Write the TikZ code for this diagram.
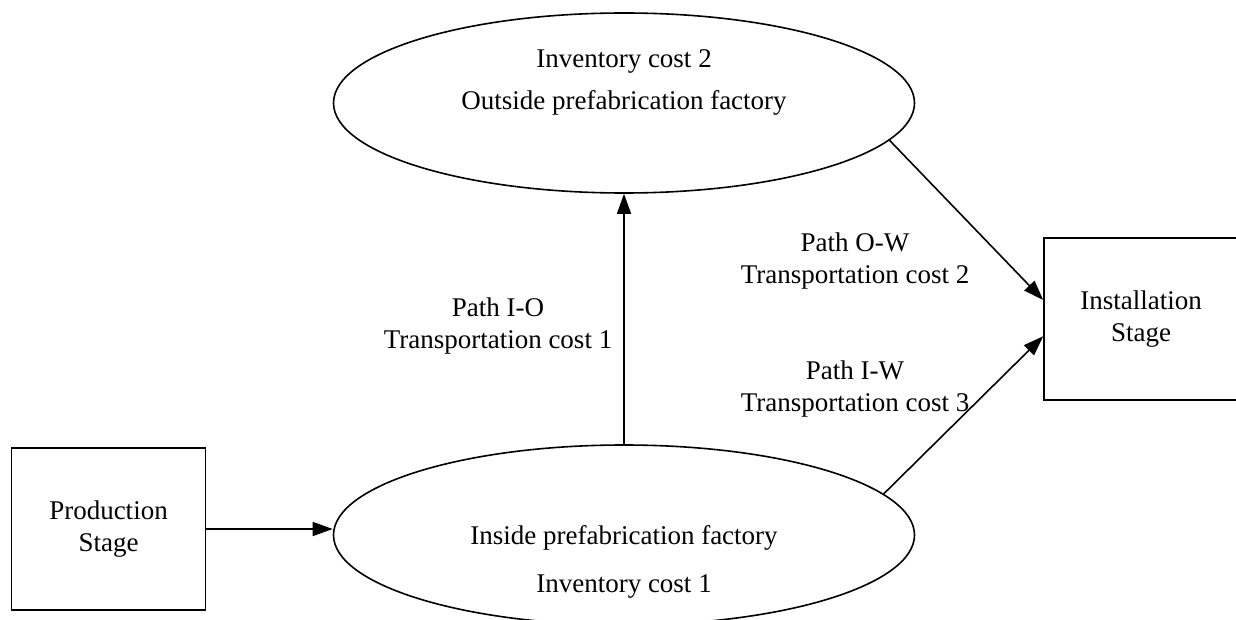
\documentclass[tikz,border=0pt]{standalone}
\usepackage{fontspec}
\setmainfont{Liberation Serif}
\usetikzlibrary{arrows.meta,shapes,positioning}

\begin{document}
\begin{tikzpicture}[x=0.5pt,y=-0.5pt,
    font=\fontsize{13.5}{16}\selectfont, line width=0.8pt,
    >={Triangle[length=10pt,width=7pt]},
    stage/.style={draw,rectangle,align=center,minimum width=97pt,minimum height=81pt},
    factory/.style={draw,ellipse,minimum width=290.5pt,minimum height=90pt}]
    \useasboundingbox (0,0) rectangle (1236,620);
    % stages
    \node[stage] (prod) at (108.5,529) {Production\\Stage};
    \node[stage] (inst) at (1141,319) {Installation\\Stage};
    % factories
    \node[factory] (outside) at (624,103) {};
    \node[factory] (inside) at (624,535) {};
    \node (inv2) at (624,61)  {Inventory cost 2};
    \node (out)  at (624,103) {Outside prefabrication factory};
    \node (in)   at (624,538) {Inside prefabrication factory};
    \node (inv1) at (624,586) {Inventory cost 1};
    % paths
    \draw[->] (prod) -- (prod -| inside.west);
    \draw[->] (inside) -- (outside);
    \draw[->] (outside.-8.7) -- (inst.169);
    \draw[->] (inside.9) -- (inst.190.5);
    \node[align=center] (io) at (498,326) {Path I-O\\Transportation cost 1};
    \node[align=center] (ow) at (855,261) {Path O-W\\Transportation cost 2};
    \node[align=center] (iw) at (855,389) {Path I-W\\Transportation cost 3};
\end{tikzpicture}
\end{document}
